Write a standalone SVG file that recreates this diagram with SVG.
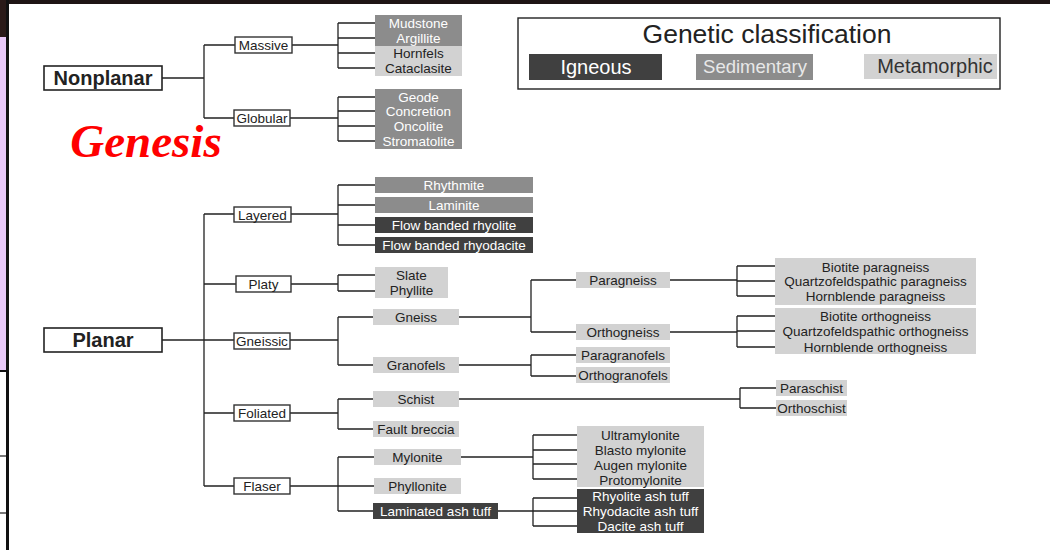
<svg xmlns="http://www.w3.org/2000/svg" width="1050" height="550" viewBox="0 0 1050 550">
<style>
.nb{fill:#fff;stroke:#333;stroke-width:1.4}
.nbb{fill:#fff;stroke:#222;stroke-width:1.6}
.dk{fill:#404040}
.md{fill:#8c8c8c}
.lt{fill:#d2d2d2}
text{font-family:"Liberation Sans",Arial,sans-serif;text-anchor:middle}
.s{font-size:13.5px;fill:#222}
.w{font-size:13.5px;fill:#fff}
.big{font-size:20px;font-weight:bold;fill:#222}
.lg{font-size:20px}
.conn path{fill:none;stroke:#222;stroke-width:1.3}
</style>
<rect x="0" y="0" width="1050" height="550" fill="#fff"/>
<rect x="0" y="0" width="1050" height="4" fill="#1e1414"/>
<rect x="0" y="0" width="7" height="37" fill="#2a1a18"/>
<rect x="0" y="37" width="7" height="334" fill="#e8c8f8"/>
<rect x="0" y="370" width="7" height="2" fill="#111"/>
<rect x="0" y="455" width="7" height="2" fill="#777"/>
<rect x="0" y="512" width="7" height="2" fill="#777"/>
<rect x="6" y="0" width="3" height="550" fill="#111"/>

<g class="conn">
<path d="M162,78H204M204,45V118M204,45H235M204,118H234"/>
<path d="M292,45H338M338,23V68M338,23H375M338,38H375M338,53H375M338,68H375"/>
<path d="M290,118H338M338,97V141M338,97H375M338,111H375M338,126H375M338,141H375"/>
<path d="M162,340H204M204,214V486M204,214H234M204,284H236M204,340H234M204,413H234M204,486H234"/>
<path d="M291,214H338M338,185V245M338,185H375M338,205H375M338,225H375M338,245H375"/>
<path d="M291,284H338M338,275V291M338,275H375M338,291H375"/>
<path d="M290,340H338M338,317V365M338,317H373M338,365H373"/>
<path d="M459,317H531M531,280V332M531,280H576M531,332H576"/>
<path d="M670,280H737M737,266V296M737,266H776M737,281H776M737,296H776"/>
<path d="M670,332H737M737,316V347M737,316H776M737,331H776M737,347H776"/>
<path d="M459,365H531M531,355V376M531,355H576M531,376H576"/>
<path d="M290,413H338M338,399V429M338,399H373M338,429H373"/>
<path d="M459,399H740M740,388V408M740,388H776M740,408H776"/>
<path d="M290,486H338M338,457V511M338,457H374M338,486H374M338,511H373"/>
<path d="M461,457H533M533,435V479M533,435H578M533,450H578M533,464H578M533,479H578"/>
<path d="M498,511H578M533,498V526M533,498H578M533,526H578"/>
</g>

<g id="legend">
<rect x="518" y="18" width="482" height="71" fill="#fff" stroke="#222" stroke-width="1.4"/>
<text x="767" y="43" style="font-size:26.5px;fill:#222">Genetic classification</text>
<rect class="dk" x="529" y="54" width="133" height="26"/>
<text class="lg" x="596" y="74" fill="#fff">Igneous</text>
<rect class="md" x="696" y="54" width="117" height="26"/>
<text x="755" y="73" style="font-size:18.5px" fill="#e8e8e8">Sedimentary</text>
<rect class="lt" x="864" y="54" width="133" height="25"/>
<text class="lg" x="935" y="73" fill="#333">Metamorphic</text>
</g>

<g id="genesis">
<text x="146" y="157" style="font-family:'Liberation Serif','Times New Roman',serif;font-size:47px;font-style:italic;font-weight:bold;fill:#f00">Genesis</text>
</g>

<g id="nonplanar"><rect class="nbb" x="44" y="66" width="118" height="24"/><text class="big" x="103" y="85">Nonplanar</text></g>
<g id="massive"><rect class="nb" x="235" y="37" width="57" height="16"/><text class="s" x="263.5" y="50">Massive</text></g>
<g id="globular"><rect class="nb" x="234" y="110" width="56" height="16"/><text class="s" x="262" y="123">Globular</text></g>
<g id="massive-list">
<rect class="md" x="375" y="15" width="87" height="31"/>
<rect class="lt" x="375" y="46" width="87" height="30"/>
<text class="w" x="418.5" y="28">Mudstone</text>
<text class="w" x="418.5" y="43">Argillite</text>
<text class="s" x="418.5" y="58">Hornfels</text>
<text class="s" x="418.5" y="73">Cataclasite</text>
</g>
<g id="globular-list">
<rect class="md" x="375" y="89" width="87" height="60"/>
<text class="w" x="418.5" y="102">Geode</text>
<text class="w" x="418.5" y="116">Concretion</text>
<text class="w" x="418.5" y="131">Oncolite</text>
<text class="w" x="418.5" y="146">Stromatolite</text>
</g>

<g id="planar"><rect class="nbb" x="44" y="328" width="118" height="24"/><text class="big" x="103" y="347">Planar</text></g>
<g id="layered"><rect class="nb" x="234" y="207" width="57" height="15"/><text class="s" x="262.5" y="219.5">Layered</text></g>
<g id="platy"><rect class="nb" x="236" y="276" width="55" height="16"/><text class="s" x="263.5" y="289">Platy</text></g>
<g id="gneissic"><rect class="nb" x="234" y="333" width="56" height="16"/><text class="s" x="262" y="346">Gneissic</text></g>
<g id="foliated"><rect class="nb" x="234" y="405" width="56" height="16"/><text class="s" x="262" y="418">Foliated</text></g>
<g id="flaser"><rect class="nb" x="234" y="478" width="56" height="16"/><text class="s" x="262" y="491">Flaser</text></g>

<g id="rhythmite"><rect class="md" x="375" y="177" width="158" height="16"/><text class="w" x="454" y="190">Rhythmite</text></g>
<g id="laminite"><rect class="md" x="375" y="197" width="158" height="16"/><text class="w" x="454" y="210">Laminite</text></g>
<g id="flow-rhyolite"><rect class="dk" x="375" y="217" width="158" height="16"/><text class="w" x="454" y="230">Flow banded rhyolite</text></g>
<g id="flow-rhyodacite"><rect class="dk" x="375" y="237" width="158" height="16"/><text class="w" x="454" y="250">Flow banded rhyodacite</text></g>

<g id="slate"><rect class="lt" x="375" y="267" width="73" height="31"/><text class="s" x="411.5" y="279.5">Slate</text><text class="s" x="411.5" y="294.5">Phyllite</text></g>
<g id="gneiss"><rect class="lt" x="373" y="309" width="86" height="16"/><text class="s" x="416" y="322">Gneiss</text></g>
<g id="granofels"><rect class="lt" x="373" y="357" width="86" height="16"/><text class="s" x="416" y="370">Granofels</text></g>
<g id="paragneiss"><rect class="lt" x="576" y="272" width="94" height="16"/><text class="s" x="623" y="285">Paragneiss</text></g>
<g id="orthogneiss"><rect class="lt" x="576" y="324" width="94" height="16"/><text class="s" x="623" y="337">Orthogneiss</text></g>
<g id="paragneiss-list"><rect class="lt" x="775" y="258" width="201" height="47"/>
<text class="s" x="875.5" y="271.5">Biotite paragneiss</text>
<text class="s" x="875.5" y="286">Quartzofeldspathic paragneiss</text>
<text class="s" x="875.5" y="300.5">Hornblende paragneiss</text></g>
<g id="orthogneiss-list"><rect class="lt" x="775" y="308" width="201" height="46"/>
<text class="s" x="875.5" y="321">Biotite orthogneiss</text>
<text class="s" x="875.5" y="336">Quartzofeldspathic orthogneiss</text>
<text class="s" x="875.5" y="351.5">Hornblende orthogneiss</text></g>
<g id="paragranofels"><rect class="lt" x="576" y="347" width="94" height="16"/><text class="s" x="623" y="360">Paragranofels</text></g>
<g id="orthogranofels"><rect class="lt" x="576" y="367" width="94" height="16"/><text class="s" x="623" y="380">Orthogranofels</text></g>

<g id="schist"><rect class="lt" x="373" y="391" width="86" height="16"/><text class="s" x="416" y="404">Schist</text></g>
<g id="fault-breccia"><rect class="lt" x="373" y="421" width="86" height="16"/><text class="s" x="416" y="434">Fault breccia</text></g>
<g id="paraschist"><rect class="lt" x="776" y="380" width="71" height="16"/><text class="s" x="811.5" y="393">Paraschist</text></g>
<g id="orthoschist"><rect class="lt" x="776" y="400" width="71" height="16"/><text class="s" x="811.5" y="413">Orthoschist</text></g>

<g id="mylonite"><rect class="lt" x="374" y="449" width="87" height="16"/><text class="s" x="417.5" y="462">Mylonite</text></g>
<g id="phyllonite"><rect class="lt" x="374" y="478" width="87" height="16"/><text class="s" x="417.5" y="491">Phyllonite</text></g>
<g id="laminated-ash-tuff"><rect class="dk" x="373" y="503" width="125" height="16"/><text class="w" x="435.5" y="516">Laminated ash tuff</text></g>
<g id="mylonite-list"><rect class="lt" x="577" y="426" width="127" height="61"/>
<text class="s" x="640.5" y="439.5">Ultramylonite</text>
<text class="s" x="640.5" y="454.5">Blasto mylonite</text>
<text class="s" x="640.5" y="469.5">Augen mylonite</text>
<text class="s" x="640.5" y="484.5">Protomylonite</text></g>
<g id="ash-tuff-list"><rect class="dk" x="577" y="489" width="127" height="44"/>
<text class="w" x="640.5" y="500.5">Rhyolite ash tuff</text>
<text class="w" x="640.5" y="515.5">Rhyodacite ash tuff</text>
<text class="w" x="640.5" y="530.5">Dacite ash tuff</text></g>
</svg>
